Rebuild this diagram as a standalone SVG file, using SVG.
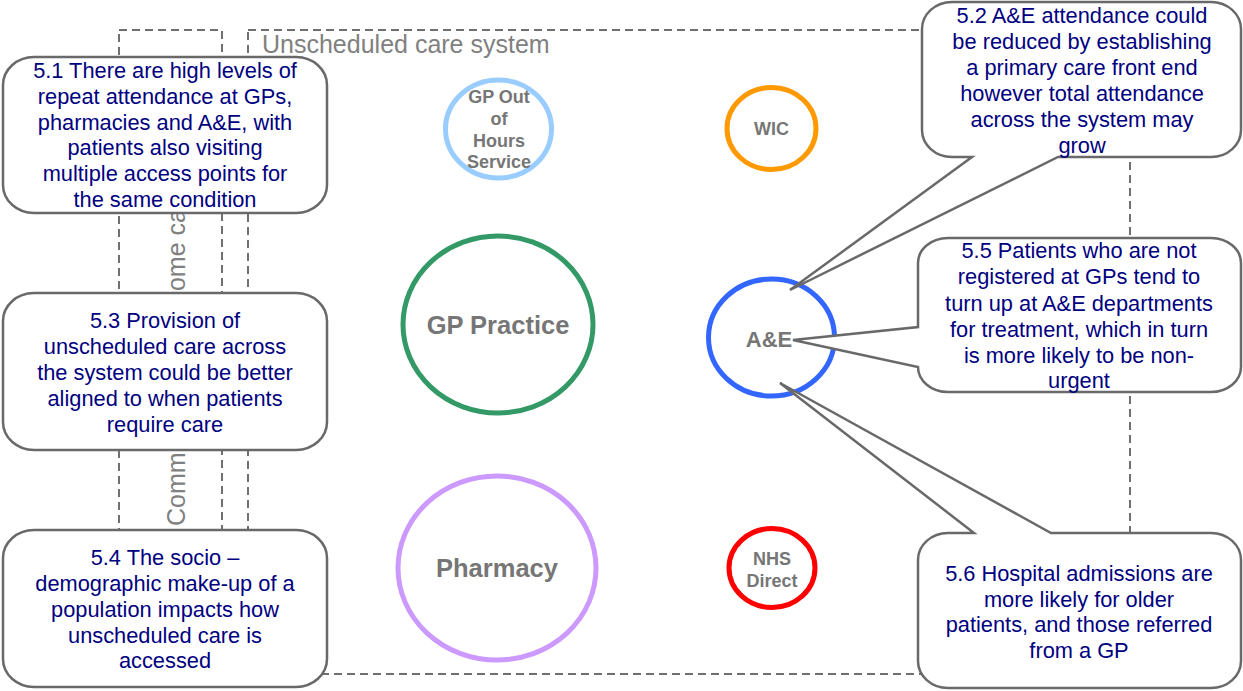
<svg xmlns="http://www.w3.org/2000/svg" width="1243" height="691" viewBox="0 0 1243 691">
<style>
.frame{fill:none;stroke:#707070;stroke-width:2;stroke-dasharray:8 5}
.ftxt{font-family:"Liberation Sans",Arial,sans-serif;font-size:25px;fill:#808080}
.call{fill:#fff;stroke:#696969;stroke-width:2.5;stroke-linejoin:miter}
.ctxt{font-family:"Liberation Sans",Arial,sans-serif;font-size:21.8px;fill:#000080;text-anchor:middle}
.ring{fill:none;stroke-width:5}
.ntxt{font-family:"Liberation Sans",Arial,sans-serif;font-weight:bold;fill:#767676;text-anchor:middle}
</style>
<rect width="1243" height="691" fill="#fff"/>
<g id="frames">
<rect class="frame" x="119" y="30" width="103" height="644"/>
<rect class="frame" x="248" y="30" width="882" height="644"/>
<text class="ftxt" x="262" y="53">Unscheduled care system</text>
<text class="ftxt" font-size="24" transform="translate(185,526) rotate(-90)"><tspan x="0">Community and</tspan><tspan x="221">home care</tspan></text>
</g>
<g id="gp-ooh">
<ellipse class="ring" cx="498.5" cy="129" rx="53" ry="49" stroke="#99CCFF"/>
<text class="ntxt" font-size="18" x="499"><tspan x="499" y="103">GP Out</tspan><tspan x="499" y="125">of</tspan><tspan x="499" y="147">Hours</tspan><tspan x="499" y="168">Service</tspan></text>
</g>
<g id="wic">
<ellipse class="ring" cx="771.5" cy="128.5" rx="44.5" ry="41" stroke="#FF9900"/>
<text class="ntxt" font-size="18" x="771.5" y="135">WIC</text>
</g>
<g id="gp-practice">
<ellipse class="ring" cx="498" cy="324.5" rx="95" ry="88.5" stroke="#339966"/>
<text class="ntxt" font-size="25.5" x="498" y="334">GP Practice</text>
</g>
<g id="pharmacy">
<ellipse class="ring" cx="497" cy="568" rx="99" ry="92" stroke="#CC99FF"/>
<text class="ntxt" font-size="25.5" x="497" y="577">Pharmacy</text>
</g>
<g id="ae">
<ellipse class="ring" cx="771.5" cy="337.5" rx="63" ry="58.5" stroke="#3366FF"/>
</g>
<g id="nhs-direct">
<ellipse class="ring" cx="772" cy="568" rx="43" ry="39.5" stroke="#FF0000"/>
<text class="ntxt" font-size="18"><tspan x="772" y="565">NHS</tspan><tspan x="772" y="587">Direct</tspan></text>
</g>
<g id="connectors">
<path id="callout-5-2" class="call" d="M952,2 H1211 A30 27 0 0 1 1241,29 V130 A30 27 0 0 1 1211,157 H1058 L790,290 L972,157 H952 A30 27 0 0 1 922,130 V29 A30 27 0 0 1 952,2 Z"/>
<path id="callout-5-5" class="call" d="M948,238 H1211 A30 25 0 0 1 1241,263 V367 A30 25 0 0 1 1211,392 H948 A30 25 0 0 1 918,367 L793,340 L918,327 V263 A30 25 0 0 1 948,238 Z"/>
<path id="callout-5-6" class="call" d="M948,533 H974 L780,383 L1051,533 H1211 A30 27 0 0 1 1241,560 V661 A30 27 0 0 1 1211,688 H948 A30 27 0 0 1 918,661 V560 A30 27 0 0 1 948,533 Z"/>
</g>
<g id="ae-label">
<text class="ntxt" font-size="22" x="769" y="347">A&amp;E</text>
</g>
<g id="c51">
<rect class="call" x="3" y="57" width="324" height="156" rx="31" ry="28"/>
<text class="ctxt"><tspan x="165" y="78">5.1 There are high levels of</tspan><tspan x="165" y="104">repeat attendance at GPs,</tspan><tspan x="165" y="130">pharmacies and A&amp;E, with</tspan><tspan x="165" y="155">patients also visiting</tspan><tspan x="165" y="181">multiple access points for</tspan><tspan x="165" y="207">the same condition</tspan></text>
</g>
<g id="c53">
<rect class="call" x="3" y="293" width="324" height="157" rx="31" ry="28"/>
<text class="ctxt"><tspan x="165" y="328">5.3 Provision of</tspan><tspan x="165" y="354">unscheduled care across</tspan><tspan x="165" y="380">the system could be better</tspan><tspan x="165" y="406">aligned to when patients</tspan><tspan x="165" y="432">require care</tspan></text>
</g>
<g id="c54">
<rect class="call" x="3" y="530" width="324" height="157" rx="31" ry="28"/>
<text class="ctxt"><tspan x="165" y="565">5.4 The socio –</tspan><tspan x="165" y="591">demographic make-up of a</tspan><tspan x="165" y="617">population impacts how</tspan><tspan x="165" y="643">unscheduled care is</tspan><tspan x="165" y="668">accessed</tspan></text>
</g>
<g id="c52">
<text class="ctxt"><tspan x="1082" y="23">5.2 A&amp;E attendance could</tspan><tspan x="1082" y="49">be reduced by establishing</tspan><tspan x="1082" y="75">a primary care front end</tspan><tspan x="1082" y="101">however total attendance</tspan><tspan x="1082" y="127">across the system may</tspan><tspan x="1082" y="153">grow</tspan></text>
</g>
<g id="c55">
<text class="ctxt"><tspan x="1079" y="258">5.5 Patients who are not</tspan><tspan x="1079" y="284">registered at GPs tend to</tspan><tspan x="1079" y="311">turn up at A&amp;E departments</tspan><tspan x="1079" y="337">for treatment, which in turn</tspan><tspan x="1079" y="363">is more likely to be non-</tspan><tspan x="1079" y="388">urgent</tspan></text>
</g>
<g id="c56">
<text class="ctxt"><tspan x="1079" y="581">5.6 Hospital admissions are</tspan><tspan x="1079" y="607">more likely for older</tspan><tspan x="1079" y="632">patients, and those referred</tspan><tspan x="1079" y="658">from a GP</tspan></text>
</g>
</svg>
